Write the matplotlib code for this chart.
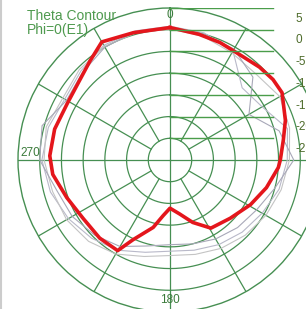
import numpy as np
import matplotlib
matplotlib.use("Agg")
import matplotlib.pyplot as plt
from matplotlib.lines import Line2D

plt.rcParams['font.family'] = ['Liberation Sans', 'DejaVu Sans']

# main (red) pattern, angle in degrees clockwise from top, gain in dB
red_ang = [0, 13, 23, 34, 44, 52, 59, 71, 80, 90, 94, 106, 119, 134, 149, 160, 170,
           180, 187, 194, 205, 210, 222, 236, 250, 263, 272, 285, 299, 311, 321, 330, 344, 360]
red_db = [0.5, -0.3, -0.6, -0.9, -0.3, 0.1, 0.1, -1.9, -3.5, -4.6, -5.0, -6.9, -8.8, -10.7,
          -11.7, -14.7, -17.4, -18.9, -17.1, -14.0, -9.7, -5.9, -5.8, -5.9, -4.7, -2.8, -2.3,
          -2.5, -3.0, -2.3, -0.7, 1.4, 0.5, 0.5]

# faint gray traces
g_ang = [0, 15, 30, 45, 60, 75, 90, 105, 120, 135, 150, 165, 180, 195, 210, 225, 240,
         255, 270, 285, 300, 315, 330, 345, 360]
g1 = [0.8, 0.3, -1.0, -6.5, -5.5, -2.0, -3.0, -4.0, -5.5, -6.5, -7.5, -8.5, -9.0, -8.0,
      -6.0, -4.5, -3.0, -1.5, -0.5, -1.0, -2.0, -1.0, 0.5, 0.8, 0.8]
g2 = [0.2, -0.5, -1.5, -2.0, -0.8, -1.5, -2.5, -3.5, -4.5, -5.5, -6.5, -7.5, -8.0, -7.0,
      -5.0, -3.5, -2.5, -2.0, -1.0, -0.5, -1.5, -0.5, 0.2, 0.3, 0.2]
g3 = [0.5, 0.0, -0.5, -3.0, -9.0, -4.0, -1.5, -5.0, -7.0, -8.0, -9.0, -10.0, -10.5, -9.5,
      -7.0, -5.5, -4.0, -3.0, 0.0, 0.5, -2.5, -1.5, 0.0, 0.6, 0.5]

rings = [-25, -20, -15, -10, -5, 0]
scale_lv = [5, 0, -5, -10, -15, -20, -25]
rmin, rmax = -30, 5

grid_c = '#468f52'
W, H = 306, 309
cx, cy, R = 170, 160, 152

fig = plt.figure(figsize=(W / 100, H / 100), dpi=100)
rect = [(cx - R) / W, (H - cy - R) / H, 2 * R / W, 2 * R / H]
ax = fig.add_axes(rect, projection='polar')
ax.set_theta_zero_location('N')
ax.set_theta_direction(-1)
ax.set_ylim(rmin, rmax)
ax.grid(False)
ax.set_xticks([])
ax.set_yticks([])
ax.spines['polar'].set_color(grid_c)
ax.spines['polar'].set_linewidth(1.0)

t = np.linspace(0, 2 * np.pi, 361)
for r in rings:
    ax.plot(t, np.full_like(t, r), color=grid_c, lw=0.9, zorder=1)
for a in range(0, 360, 30):
    r0 = rmin if a % 90 == 0 else rings[0]
    ax.plot([np.radians(a)] * 2, [r0, rmax], color=grid_c, lw=0.9, zorder=1)

for g, c in [(g1, '#b9b9c9'), (g2, '#c4c4c4'), (g3, '#a8a8b8')]:
    ax.plot(np.radians(g_ang), g, color=c, lw=0.8, zorder=2)
ax.plot(np.radians(red_ang), red_db, color='#e4161c', lw=2.6, zorder=3)

ax.text(0, 3.4, '0', color='#3a7a3a', fontsize=8.5, ha='center', va='center')
ax.text(np.pi, 2.2, '180', color='#3a7a3a', fontsize=8.5, ha='center', va='center')
ax.text(np.radians(273), 2.3, '270', color='#3a7a3a', fontsize=8.5, ha='center', va='center')

# dB scale lines on the right
ax2 = fig.add_axes(rect)
ax2.set_xlim(-(rmax - rmin), rmax - rmin)
ax2.set_ylim(-(rmax - rmin), rmax - rmin)
ax2.axis('off')
ax2.patch.set_alpha(0)
for lv in scale_lv:
    y = lv - rmin
    ax2.plot([0, 23.7], [y, y], color='#4a9d4a', lw=1.0)
    ax2.text(29.0, y - 1.1, str(lv), color='#4d6b2a', fontsize=8.5, ha='left', va='top')

fig.text(27 / W, 1 - 16 / H, 'Theta Contour', color='#4f9a4f', fontsize=10, va='center')
fig.text(27 / W, 1 - 30 / H, 'Phi=0(E1)', color='#4f9a4f', fontsize=10, va='center')

# light gray frame edge on the left
fig.add_artist(Line2D([0.003, 0.003], [0, 1], color='#cccccc', lw=1.5))

fig.savefig('out.png', dpi=100, facecolor='white')
